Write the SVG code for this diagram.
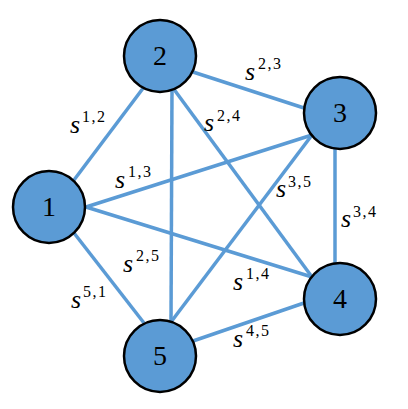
<svg xmlns="http://www.w3.org/2000/svg" width="408" height="409" viewBox="0 0 408 409">
<style>
.edge{stroke:#5b9bd5;stroke-width:3.5;fill:none;stroke-linecap:butt}
.node circle{fill:#5b9bd5;stroke:#000;stroke-width:2.5}
.node text{font-family:"Liberation Serif","DejaVu Serif",serif;font-size:28px;fill:#000;text-anchor:middle}
.lbl{font-family:"Liberation Serif","DejaVu Serif",serif;fill:#000}
.s{font-style:italic;font-size:26px}
.sup{font-size:16px;letter-spacing:1.5px}
</style>
<rect width="408" height="409" fill="#fff"/>
<g id="edges">
<line class="edge" x1="74" y1="180" x2="144" y2="87"/>
<line class="edge" x1="86" y1="207" x2="312" y2="135"/>
<line class="edge" x1="86" y1="207" x2="312" y2="277"/>
<line class="edge" x1="74" y1="233" x2="144" y2="323"/>
<line class="edge" x1="193" y1="72" x2="304" y2="108"/>
<line class="edge" x1="173" y1="88" x2="312" y2="277"/>
<line class="edge" x1="172" y1="89" x2="171" y2="322"/>
<line class="edge" x1="335" y1="148" x2="335" y2="263"/>
<line class="edge" x1="312" y1="135" x2="171" y2="322"/>
<line class="edge" x1="304" y1="303" x2="193" y2="341"/>
</g>
<g id="labels">
<text class="lbl"><tspan class="s" x="70" y="133">s</tspan><tspan class="sup" x="82" y="122">1,2</tspan></text>
<text class="lbl"><tspan class="s" x="245" y="80">s</tspan><tspan class="sup" x="258" y="69">2,3</tspan></text>
<text class="lbl"><tspan class="s" x="204" y="131">s</tspan><tspan class="sup" x="217" y="121">2,4</tspan></text>
<text class="lbl"><tspan class="s" x="115" y="188">s</tspan><tspan class="sup" x="128" y="177">1,3</tspan></text>
<text class="lbl"><tspan class="s" x="276" y="197">s</tspan><tspan class="sup" x="288" y="187">3,5</tspan></text>
<text class="lbl"><tspan class="s" x="341" y="227">s</tspan><tspan class="sup" x="353" y="217">3,4</tspan></text>
<text class="lbl"><tspan class="s" x="123" y="272">s</tspan><tspan class="sup" x="136" y="261">2,5</tspan></text>
<text class="lbl"><tspan class="s" x="233" y="290">s</tspan><tspan class="sup" x="246" y="279">1,4</tspan></text>
<text class="lbl"><tspan class="s" x="71" y="308">s</tspan><tspan class="sup" x="83" y="297">5,1</tspan></text>
<text class="lbl"><tspan class="s" x="233" y="347">s</tspan><tspan class="sup" x="246" y="336">4,5</tspan></text>
</g>
<g id="node1" class="node"><circle cx="49" cy="207" r="36"/><text x="49" y="216">1</text></g>
<g id="node2" class="node"><circle cx="160" cy="56" r="36"/><text x="160" y="65">2</text></g>
<g id="node3" class="node"><circle cx="340" cy="113" r="36"/><text x="340" y="122">3</text></g>
<g id="node4" class="node"><circle cx="340" cy="299" r="36"/><text x="340" y="308">4</text></g>
<g id="node5" class="node"><circle cx="160" cy="356" r="36"/><text x="160" y="365">5</text></g>
</svg>
